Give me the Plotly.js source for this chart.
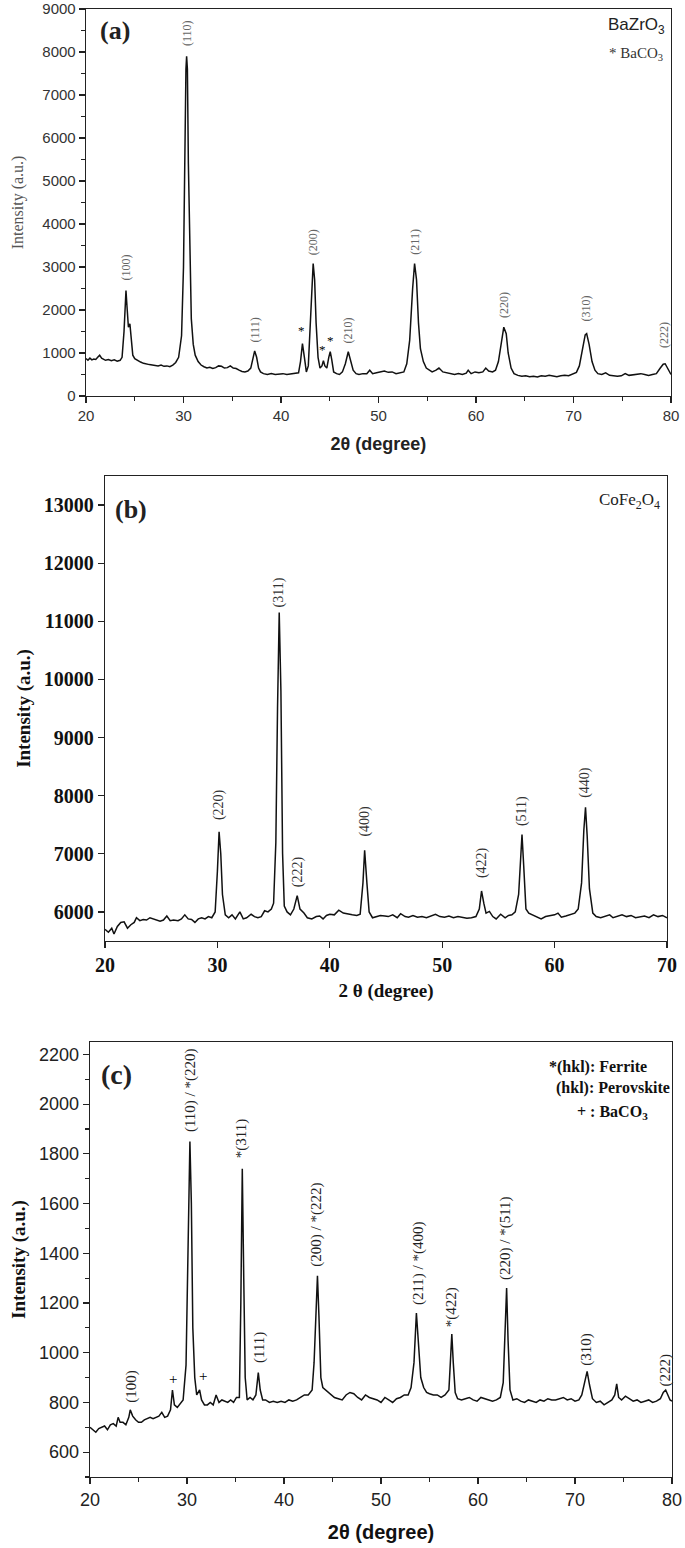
<!DOCTYPE html>
<html><head><meta charset="utf-8">
<script src="https://cdn.plot.ly/plotly-3.0.1.min.js"></script>
<style>body{margin:0;background:#fff}#g{width:685px;height:1548px}</style>
</head><body><div id="g"></div>
<script>
// ---------- Panel (a): BaZrO3 ----------
const xA = [20.0,20.2,20.4,20.6,20.8,21.0,21.2,21.4,21.6,21.8,22.0,22.3,22.6,22.9,23.2,23.5,23.7,23.9,24.0,24.1,24.2,24.35,24.5,24.65,24.8,25.0,25.3,25.6,25.9,26.2,26.5,26.8,27.1,27.4,27.7,28.0,28.3,28.6,28.9,29.2,29.5,29.8,30.0,30.15,30.25,30.32,30.4,30.5,30.65,30.8,31.0,31.2,31.5,31.8,32.1,32.4,32.7,33.0,33.3,33.6,33.9,34.2,34.5,34.8,35.1,35.4,35.7,36.0,36.3,36.6,36.9,37.1,37.3,37.5,37.7,37.9,38.2,38.6,39.0,39.4,39.8,40.2,40.6,41.0,41.4,41.8,42.0,42.2,42.4,42.6,42.8,43.0,43.2,43.3,43.45,43.6,43.8,44.0,44.2,44.35,44.5,44.7,44.9,45.05,45.2,45.4,45.7,46.0,46.3,46.6,46.9,47.1,47.4,47.7,48.0,48.4,48.8,49.1,49.4,49.8,50.2,50.6,51.0,51.4,51.8,52.2,52.6,52.9,53.2,53.5,53.7,53.9,54.1,54.3,54.6,54.9,55.2,55.5,55.9,56.2,56.6,57.0,57.4,57.8,58.2,58.6,59.0,59.2,59.5,59.9,60.3,60.7,61.0,61.3,61.7,62.0,62.3,62.6,62.85,63.1,63.3,63.6,63.9,64.3,64.7,65.1,65.5,65.9,66.3,66.7,67.1,67.5,67.9,68.3,68.7,69.1,69.5,69.9,70.3,70.6,70.9,71.2,71.35,71.6,71.9,72.2,72.5,72.9,73.3,73.7,74.1,74.5,74.9,75.3,75.7,76.1,76.5,76.9,77.3,77.7,78.1,78.5,78.9,79.2,79.4,79.7,80.0];
const yA = [870,830,880,840,860,850,900,950,880,860,830,850,820,840,810,830,900,1500,2200,2450,2100,1600,1680,1300,950,870,820,790,760,740,730,720,710,700,720,690,700,680,720,780,900,1400,3000,6200,7600,7900,7600,5400,3000,1800,1200,950,800,720,680,650,670,640,660,700,690,650,660,700,650,640,600,570,560,580,650,850,1050,900,650,560,520,500,520,500,510,520,500,510,520,540,800,1220,900,560,700,1800,2900,3080,2700,1700,900,650,700,820,700,650,900,1030,850,560,520,500,560,750,1030,850,600,520,500,520,520,600,520,540,560,580,550,560,520,540,560,750,1300,2500,3080,2700,1700,1100,800,650,600,560,600,650,560,540,520,500,520,500,530,600,520,560,540,560,650,580,560,600,800,1300,1600,1450,1000,650,520,480,460,470,450,460,440,470,460,480,460,450,470,480,470,520,550,700,1100,1420,1450,1200,800,600,520,500,540,480,470,460,470,520,480,490,500,520,500,480,500,520,650,740,750,620,500];
const peakLabelsA = ["(100)","(110)","(111)","(200)","(210)","(211)","(220)","(310)","(222)"];
const peakXA = [24.15,30.3,37.3,43.3,46.9,53.7,62.9,71.3,79.3];
const peakYA = [3000,8450,1540,3580,1530,3580,2120,2040,1420];
const starXA = [42.1,44.3,45.05];
const starYA = [1530,1090,1300];

// ---------- Panel (b): CoFe2O4 ----------
const xB = [20.0,20.3,20.6,20.8,21.1,21.4,21.7,22.0,22.3,22.6,22.8,23.1,23.4,23.7,24.0,24.3,24.6,24.9,25.2,25.5,25.8,26.1,26.5,26.8,27.1,27.4,27.7,28.0,28.3,28.6,28.9,29.2,29.5,29.8,30.0,30.15,30.3,30.45,30.7,31.0,31.3,31.6,32.0,32.3,32.6,33.0,33.3,33.6,33.9,34.2,34.5,34.8,35.0,35.2,35.35,35.5,35.65,35.8,35.95,36.2,36.5,36.8,37.1,37.35,37.7,38.0,38.4,38.8,39.1,39.4,39.7,40.0,40.4,40.8,41.2,41.6,42.0,42.4,42.7,42.95,43.1,43.3,43.5,43.8,44.1,44.5,44.9,45.2,45.6,46.0,46.3,46.7,47.0,47.4,47.8,48.2,48.6,49.0,49.4,49.8,50.2,50.6,51.0,51.4,51.8,52.2,52.6,53.0,53.3,53.5,53.7,53.9,54.2,54.5,54.8,55.2,55.6,55.9,56.2,56.5,56.8,56.95,57.1,57.25,57.45,57.7,58.0,58.4,58.8,59.2,59.6,60.0,60.3,60.6,61.0,61.4,61.8,62.1,62.4,62.6,62.75,62.9,63.1,63.4,63.7,64.1,64.5,64.9,65.2,65.6,66.0,66.4,66.8,67.2,67.6,68.0,68.4,68.8,69.2,69.6,70.0];
const yB = [5700,5650,5720,5620,5750,5820,5830,5720,5780,5820,5900,5850,5870,5860,5900,5880,5870,5840,5860,5930,5850,5860,5850,5880,5950,5880,5870,5820,5880,5900,5880,5920,5900,6000,6700,7380,7000,6300,5950,5900,5950,5880,6000,5880,5900,5960,5920,5900,5920,6020,6000,6050,6150,7200,9500,11150,9800,7000,6100,6000,5950,6050,6280,6050,5980,5900,5880,5920,5930,5880,5940,5960,5950,6030,5980,5960,5950,5940,5960,6500,7060,6500,6000,5900,5920,5940,5930,5920,5950,5900,5970,5920,5910,5940,5910,5920,5900,5930,5960,5920,5910,5930,5900,5920,5900,5890,5900,5920,6050,6360,6150,5980,6010,5920,5880,5960,5900,5940,5950,6000,6300,6900,7330,6800,6050,5980,5950,5920,5880,5920,5940,5950,5980,5910,5930,5950,5980,6050,6500,7400,7800,7300,6400,5980,5920,5900,5920,5950,5900,5930,5950,5920,5940,5900,5920,5930,5900,5950,5920,5940,5900];
const peakLabelsB = ["(220)","(311)","(222)","(400)","(422)","(511)","(440)"];
const peakXB = [30.15,35.5,37.2,43.1,53.5,57.1,62.75];
const peakYB = [7840,11500,6690,7565,6850,7735,8230];

// ---------- Panel (c): composite ----------
const xC = [20.0,20.3,20.6,20.9,21.2,21.5,21.8,22.1,22.4,22.7,22.9,23.1,23.4,23.7,24.0,24.15,24.4,24.7,25.0,25.3,25.6,25.9,26.2,26.5,26.8,27.1,27.4,27.7,28.0,28.3,28.5,28.7,29.0,29.3,29.6,29.9,30.1,30.3,30.45,30.6,30.8,31.0,31.3,31.5,31.8,32.1,32.4,32.7,33.0,33.3,33.6,33.9,34.2,34.5,34.8,35.1,35.4,35.55,35.7,35.85,36.0,36.2,36.5,36.8,37.1,37.35,37.55,37.8,38.1,38.5,38.9,39.3,39.7,40.1,40.5,40.9,41.3,41.7,42.1,42.5,42.9,43.1,43.3,43.45,43.6,43.8,44.0,44.3,44.6,44.9,45.2,45.6,46.0,46.4,46.8,47.2,47.6,48.0,48.4,48.8,49.2,49.6,50.0,50.4,50.8,51.2,51.6,52.0,52.4,52.8,53.1,53.4,53.65,53.85,54.1,54.4,54.7,55.0,55.4,55.8,56.2,56.6,57.0,57.15,57.3,57.45,57.65,57.9,58.3,58.7,59.1,59.5,59.9,60.3,60.7,61.1,61.5,61.9,62.3,62.6,62.8,62.95,63.1,63.3,63.6,64.0,64.4,64.8,65.2,65.6,66.0,66.4,66.8,67.2,67.6,68.0,68.4,68.8,69.2,69.6,70.0,70.4,70.7,71.0,71.25,71.5,71.8,72.2,72.6,73.0,73.4,73.8,74.1,74.3,74.5,74.8,75.2,75.6,76.0,76.4,76.8,77.2,77.6,78.0,78.4,78.8,79.1,79.35,79.6,79.8,80.0];
const yC = [700,690,680,695,700,705,690,710,715,705,740,720,720,710,740,770,745,730,720,720,730,735,740,735,740,745,760,740,745,770,850,790,780,795,810,950,1400,1850,1600,1100,900,830,850,810,790,790,800,790,830,800,810,805,800,810,800,820,820,1200,1740,1300,900,810,820,810,830,920,850,810,810,800,805,800,805,800,810,805,810,820,830,830,850,960,1200,1310,1150,900,860,850,840,830,820,815,810,830,840,835,820,810,830,820,815,810,800,820,810,800,815,820,830,830,860,960,1160,1050,900,860,840,835,830,830,820,830,850,960,1075,960,840,815,810,815,820,810,805,820,815,810,805,810,820,880,1150,1260,1050,850,810,815,805,800,810,805,800,810,805,815,810,810,815,820,810,815,805,810,830,880,925,870,815,800,805,790,800,810,830,875,820,810,825,815,805,810,800,805,810,800,805,815,840,850,830,810,805];
const peakLabelsC = ["(100)","(110) / *(220)","*(311)","(111)","(200) / *(222)","(211) / *(400)","*(422)","(220) / *(511)","(310)","(222)"];
const peakXC = [24.2,30.35,35.7,37.4,43.4,53.8,57.3,62.9,71.2,79.3];
const peakYC = [866,2058,1860,1022,1515,1360,1182,1462,1015,929];
const plusXC = [28.6,31.6];
const plusYC = [893,907];

// ---------- layout helpers ----------
const W = 685, H = 1548;
const SANS = "Liberation Sans, Arial, sans-serif";
const SERIF = "Liberation Serif, Times New Roman, serif";
function dx(a,b){return [a/W,b/W];}
function dy(top,bot){return [1-bot/H,1-top/H];}

const lineStyle = {color:'#111', width:1.5};
const traces = [
  {x:xA, y:yA, xaxis:'x', yaxis:'y', mode:'lines', line:lineStyle, hoverinfo:'skip'},
  {x:xB, y:yB, xaxis:'x2', yaxis:'y2', mode:'lines', line:lineStyle, hoverinfo:'skip'},
  {x:xC, y:yC, xaxis:'x3', yaxis:'y3', mode:'lines', line:lineStyle, hoverinfo:'skip'}
];

function ax(o){return Object.assign({showgrid:false, zeroline:false, showline:true, linecolor:'#222', linewidth:1.3, mirror:true, ticks:'outside', tickcolor:'#222', ticklen:6, tickwidth:1.2}, o);}

const annotations = [];
function ann(o){annotations.push(Object.assign({showarrow:false, xanchor:'center', yanchor:'middle'}, o));}

peakLabelsA.forEach((t,i)=>ann({text:t, x:peakXA[i], y:peakYA[i], xref:'x', yref:'y', textangle:-90, font:{family:SERIF, size:12, color:'#666'}}));
starXA.forEach((v,i)=>ann({text:'*', x:v, y:starYA[i], xref:'x', yref:'y', font:{family:SERIF, size:13, color:'#000'}}));
peakLabelsB.forEach((t,i)=>ann({text:t, x:peakXB[i], y:peakYB[i], xref:'x2', yref:'y2', textangle:-90, font:{family:SERIF, size:14, color:'#333'}}));
peakLabelsC.forEach((t,i)=>ann({text:t, x:peakXC[i], y:peakYC[i], xref:'x3', yref:'y3', textangle:-90, font:{family:SERIF, size:15, color:'#222'}}));
plusXC.forEach((v,i)=>ann({text:'+', x:v, y:plusYC[i], xref:'x3', yref:'y3', font:{family:SERIF, size:15, color:'#000'}}));

function pp(x,y){return {x:x/W, y:1-y/H, xref:'paper', yref:'paper'};}
ann(Object.assign(pp(115,31), {text:'<b>(a)</b>', font:{family:SERIF, size:26, color:'#222'}}));
ann(Object.assign(pp(131,509), {text:'<b>(b)</b>', font:{family:SERIF, size:26, color:'#222'}}));
ann(Object.assign(pp(116,1074), {text:'<b>(c)</b>', font:{family:SERIF, size:28, color:'#222'}}));
ann(Object.assign(pp(667,26), {xanchor:'right', text:'BaZrO<sub>3</sub>', font:{family:SANS, size:17, color:'#222'}}));
ann(Object.assign(pp(665,54), {xanchor:'right', text:'* BaCO<sub>3</sub>', font:{family:SERIF, size:15, color:'#333'}}));
ann(Object.assign(pp(662,501), {xanchor:'right', text:'CoFe<sub>2</sub>O<sub>4</sub>', font:{family:SERIF, size:17, color:'#222'}}));
ann(Object.assign(pp(649,1067), {xanchor:'right', text:'<b>*(hkl): Ferrite</b>', font:{family:SERIF, size:16, color:'#111'}}));
ann(Object.assign(pp(672,1088), {xanchor:'right', text:'<b>(hkl): Perovskite</b>', font:{family:SERIF, size:16, color:'#111'}}));
ann(Object.assign(pp(650,1112), {xanchor:'right', text:'<b>+ : BaCO<sub>3</sub></b>', font:{family:SERIF, size:16, color:'#111'}}));

const layout = {
  width:W, height:H, margin:{l:0,r:0,t:0,b:0}, showlegend:false,
  paper_bgcolor:'#fff', plot_bgcolor:'#fff',
  xaxis: ax({domain:dx(86,671), anchor:'y', range:[20,80], dtick:10, tick0:0,
    minor:{dtick:5, ticks:'outside', ticklen:4, tickcolor:'#222'},
    tickfont:{family:SANS, size:15, color:'#333'},
    title:{text:'<b>2θ (degree)</b>', font:{family:SANS, size:18, color:'#222'}, standoff:14}}),
  yaxis: ax({domain:dy(9,396), anchor:'x', range:[0,9000], dtick:1000, tick0:0,
    minor:{dtick:500, ticks:'outside', ticklen:4, tickcolor:'#222'},
    tickfont:{family:SANS, size:15, color:'#333'},
    title:{text:'Intensity (a.u.)', font:{family:SERIF, size:16, color:'#555'}, standoff:14}}),
  xaxis2: ax({domain:dx(105,667), anchor:'y2', range:[20,70], dtick:10, tick0:0,
    tickfont:{family:SERIF, size:20, color:'#111', weight:'bold'},
    title:{text:'<b>2 θ (degree)</b>', font:{family:SERIF, size:19, color:'#111'}, standoff:8}}),
  yaxis2: ax({domain:dy(476,941), anchor:'x2', range:[5500,13500], dtick:1000, tick0:0, tickformat:'d',
    tickfont:{family:SERIF, size:20, color:'#111', weight:'bold'},
    title:{text:'<b>Intensity (a.u.)</b>', font:{family:SERIF, size:19, color:'#111'}, standoff:8}}),
  xaxis3: ax({domain:dx(90,672), anchor:'y3', range:[20,80], dtick:10, tick0:0,
    minor:{dtick:5, ticks:'outside', ticklen:4, tickcolor:'#222'},
    tickfont:{family:SANS, size:18, color:'#222'},
    title:{text:'<b>2θ (degree)</b>', font:{family:SANS, size:20, color:'#111'}, standoff:16}}),
  yaxis3: ax({domain:dy(1042,1477), anchor:'x3', range:[500,2250], dtick:200, tick0:0,
    minor:{dtick:100, ticks:'outside', ticklen:4, tickcolor:'#222'},
    tickfont:{family:SANS, size:18, color:'#222'},
    title:{text:'<b>Intensity (a.u.)</b>', font:{family:SERIF, size:19, color:'#111'}, standoff:8}}),
  annotations: annotations
};
Plotly.newPlot('g', traces, layout, {staticPlot:true, displayModeBar:false});
</script></body></html>
